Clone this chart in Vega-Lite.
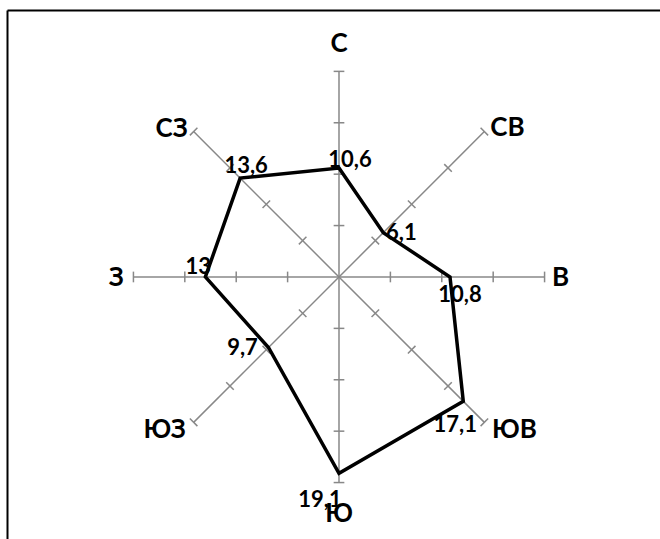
{
  "$schema": "https://vega.github.io/schema/vega-lite/v6.json",
  "width": 653,
  "height": 529,
  "autosize": {"type": "none"},
  "padding": {"left": 7, "top": 10, "right": 0, "bottom": 0},
  "background": "white",
  "config": {
    "view": {"stroke": null},
    "text": {"font": "Lato", "fontWeight": "bold", "color": "#000000"}
  },
  "data": {"values": [
    {"dir": "С", "value": 10.6},
    {"dir": "СВ", "value": 6.1},
    {"dir": "В", "value": 10.8},
    {"dir": "ЮВ", "value": 17.1},
    {"dir": "Ю", "value": 19.1},
    {"dir": "ЮЗ", "value": 9.7},
    {"dir": "З", "value": 13},
    {"dir": "СЗ", "value": 13.6}
  ]},
  "transform": [
    {"window": [{"op": "row_number", "as": "rn"}]},
    {"calculate": "(datum.rn - 1) * PI / 4", "as": "a"},
    {"calculate": "20 * sin(datum.a)", "as": "ex"},
    {"calculate": "20 * cos(datum.a)", "as": "ey"},
    {"calculate": "0", "as": "c0"},
    {"calculate": "datum.value * sin(datum.a)", "as": "vx"},
    {"calculate": "datum.value * cos(datum.a)", "as": "vy"},
    {"calculate": "replace(toString(datum.value), '.', ',')", "as": "lbl"}
  ],
  "encoding": {
    "x": {"type": "quantitative", "scale": {"domain": [-32.3, 31.23], "zero": false, "nice": false},
          "axis": {"orient": "top", "domainColor": "#000000", "domainWidth": 2, "ticks": false, "labels": false, "grid": false, "title": null}},
    "y": {"type": "quantitative", "scale": {"domain": [-25.49, 25.97], "zero": false, "nice": false},
          "axis": {"orient": "left", "domainColor": "#000000", "domainWidth": 2, "ticks": false, "labels": false, "grid": false, "title": null}}
  },
  "layer": [
    {
      "mark": {"type": "rule", "color": "#888888", "strokeWidth": 1.5},
      "encoding": {
        "x": {"field": "c0", "type": "quantitative"},
        "y": {"field": "c0", "type": "quantitative"},
        "x2": {"field": "ex"},
        "y2": {"field": "ey"}
      }
    },
    {
      "transform": [
        {"calculate": "[5, 10, 15, 20]", "as": "rs"},
        {"flatten": ["rs"]},
        {"calculate": "datum.rs * sin(datum.a) + 0.52 * cos(datum.a)", "as": "tx1"},
        {"calculate": "datum.rs * cos(datum.a) - 0.52 * sin(datum.a)", "as": "ty1"},
        {"calculate": "datum.rs * sin(datum.a) - 0.52 * cos(datum.a)", "as": "tx2"},
        {"calculate": "datum.rs * cos(datum.a) + 0.52 * sin(datum.a)", "as": "ty2"}
      ],
      "mark": {"type": "rule", "color": "#888888", "strokeWidth": 1.5},
      "encoding": {
        "x": {"field": "tx1", "type": "quantitative"},
        "y": {"field": "ty1", "type": "quantitative"},
        "x2": {"field": "tx2"},
        "y2": {"field": "ty2"}
      }
    },
    {
      "mark": {"type": "line", "interpolate": "linear-closed", "color": "#000000", "strokeWidth": 3.5, "strokeJoin": "miter"},
      "encoding": {
        "x": {"field": "vx", "type": "quantitative"},
        "y": {"field": "vy", "type": "quantitative"},
        "order": {"field": "rn", "type": "quantitative"}
      }
    },
    {
      "mark": {
        "type": "text", "fontSize": 26, "align": "center", "baseline": "middle",
        "dx": {"expr": "[0, 23, 16, 30, 0, -29, -17, -22][datum.rn - 1]"},
        "dy": {"expr": "[-27, -4, 1, 8, 31, 8, 1, -3][datum.rn - 1]"}
      },
      "encoding": {
        "x": {"field": "ex", "type": "quantitative"},
        "y": {"field": "ey", "type": "quantitative"},
        "text": {"field": "dir"}
      }
    },
    {
      "mark": {
        "type": "text", "fontSize": 22, "align": "center", "baseline": "middle",
        "dx": {"expr": "[11, 18, 10, -8, -19, -26, -7, 6][datum.rn - 1]"},
        "dy": {"expr": "[-8, 0, 18, 24, 27, 1, -10, -12][datum.rn - 1]"}
      },
      "encoding": {
        "x": {"field": "vx", "type": "quantitative"},
        "y": {"field": "vy", "type": "quantitative"},
        "text": {"field": "lbl"}
      }
    }
  ]
}
